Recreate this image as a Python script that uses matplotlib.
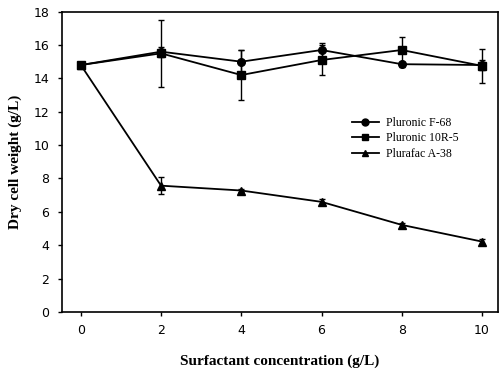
import matplotlib
matplotlib.use("Agg")
import matplotlib.pyplot as plt
from matplotlib.lines import Line2D

conc = [0, 2, 4, 6, 8, 10]
f68 = [14.8, 15.6, 15.0, 15.7, 14.85, 14.8]
f68_err = [0.1, 0.3, 0.7, 0.4, 0.15, 0.3]
r105 = [14.8, 15.5, 14.2, 15.1, 15.7, 14.75]
r105_err = [0.1, 2.0, 1.5, 0.9, 0.8, 1.0]
a38 = [14.8, 7.57, 7.28, 6.6, 5.22, 4.22]
a38_err = [0.1, 0.5, 0.1, 0.15, 0.1, 0.15]
labels = ["Pluronic F-68", "Pluronic 10R-5", "Plurafac A-38"]
markers = ["o", "s", "^"]

fig = plt.figure(figsize=(4.99, 3.75), dpi=100)
ax = fig.add_axes([0.1242, 0.168, 0.8738, 0.801])

kw = dict(color="black", lw=1.3, elinewidth=1.0, capsize=2.5, capthick=1.0, markersize=5.5)
ax.errorbar(conc, f68, yerr=f68_err, marker=markers[0], **kw)
ax.errorbar(conc, r105, yerr=r105_err, marker=markers[1], **kw)
ax.errorbar(conc, a38, yerr=a38_err, marker=markers[2], **kw)

ax.set_xlim(-0.47, 10.4)
ax.set_ylim(0, 18)
ax.set_xticks(conc)
ax.set_yticks(range(0, 19, 2))
ax.tick_params(direction="out", length=3, width=1, labelsize=9, pad=6)
for lab in ax.get_xticklabels() + ax.get_yticklabels():
    lab.set_fontfamily("DejaVu Sans")
for s in ax.spines.values():
    s.set_linewidth(1.2)

ax.set_xlabel("Surfactant concentration (g/L)", fontfamily="Liberation Serif",
              fontweight="bold", fontsize=11, labelpad=12)
ax.set_ylabel("Dry cell weight (g/L)", fontfamily="Liberation Serif",
              fontweight="bold", fontsize=11, labelpad=8)

handles = [Line2D([], [], color="black", lw=1.3, marker=m, markersize=5) for m in markers]
ax.legend(handles, labels, loc="upper left", bbox_to_anchor=(0.64, 0.685), frameon=False,
          prop={"family": "Liberation Serif", "size": 8.5},
          handlelength=2.3, handletextpad=0.6, labelspacing=0.3)

fig.savefig("out.png", dpi=100)
